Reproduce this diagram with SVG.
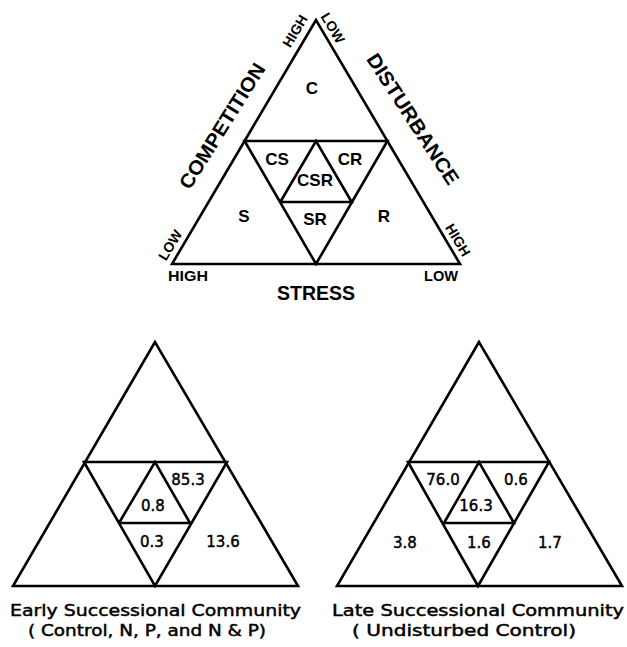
<svg xmlns="http://www.w3.org/2000/svg" width="627" height="647" viewBox="0 0 627 647">
<style>
.ln{fill:none;stroke:#000;stroke-width:2.6;stroke-linejoin:miter}
.lb{font-family:"Liberation Sans",Arial,sans-serif;font-weight:bold;font-size:17px;text-anchor:middle;fill:#000}
.ax{font-family:"Liberation Sans",Arial,sans-serif;font-weight:bold;font-size:20px;text-anchor:middle;fill:#000}
.sm{font-family:"Liberation Sans",Arial,sans-serif;font-weight:bold;font-size:14px;text-anchor:middle;fill:#000}
.nm{font-family:"DejaVu Sans",sans-serif;font-size:15px;text-anchor:middle;fill:#000;stroke:#000;stroke-width:0.45}
.cp{font-family:"DejaVu Sans",sans-serif;font-size:15px;text-anchor:middle;fill:#000;stroke:#000;stroke-width:0.45}
</style>
<rect width="627" height="647" fill="#fff"/>
<g id="top-triangle">
<polygon class="ln" points="316,20 172,264 460,264"/>
<polygon class="ln" points="244.6,141 387.4,141 316,264"/>
<polyline class="ln" points="280.3,202 316,141 351.7,202 280.3,202"/>
<text class="lb" x="312" y="94">C</text>
<text class="lb" x="277" y="165">CS</text>
<text class="lb" x="350" y="165">CR</text>
<text class="lb" x="315" y="186">CSR</text>
<text class="lb" x="244" y="222">S</text>
<text class="lb" x="315" y="225">SR</text>
<text class="lb" x="384" y="222">R</text>
<text class="sm" transform="translate(295,31) rotate(-59)" y="5">HIGH</text>
<text class="sm" transform="translate(333,28) rotate(59)" y="5">LOW</text>
<text class="sm" transform="translate(170,245) rotate(-59)" y="5">LOW</text>
<text class="sm" transform="translate(458,240) rotate(59)" y="5">HIGH</text>
<text class="sm" x="188" y="281" textLength="40" lengthAdjust="spacingAndGlyphs">HIGH</text>
<text class="sm" x="441" y="281" textLength="34" lengthAdjust="spacingAndGlyphs">LOW</text>
<text class="ax" transform="translate(222,126) rotate(-58)" y="7" textLength="144" lengthAdjust="spacingAndGlyphs">COMPETITION</text>
<text class="ax" transform="translate(413,119) rotate(57)" y="7" textLength="152" lengthAdjust="spacingAndGlyphs">DISTURBANCE</text>
<text class="ax" x="316" y="300" font-size="19" textLength="78" lengthAdjust="spacingAndGlyphs">STRESS</text>
</g>
<g id="early-triangle">
<polygon class="ln" points="155,342 13,586 298,586"/>
<polygon class="ln" points="84,462 227,462 155,586"/>
<polyline class="ln" points="119,523 155,462 190,523 119,523"/>
<text class="nm" x="188" y="485">85.3</text>
<text class="nm" x="153" y="511">0.8</text>
<text class="nm" x="152" y="547">0.3</text>
<text class="nm" x="223" y="547">13.6</text>
</g>
<g id="late-triangle">
<polygon class="ln" points="479,342 337,586 622,586"/>
<polygon class="ln" points="408,462 549,462 478,586"/>
<polyline class="ln" points="444,523 479,462 514,523 444,523"/>
<text class="nm" x="443" y="485">76.0</text>
<text class="nm" x="516" y="485">0.6</text>
<text class="nm" x="476" y="511">16.3</text>
<text class="nm" x="405" y="548">3.8</text>
<text class="nm" x="479" y="548">1.6</text>
<text class="nm" x="550" y="548">1.7</text>
</g>
<g id="captions">
<text class="cp" x="155.5" y="616" textLength="291" lengthAdjust="spacingAndGlyphs">Early Successional Community</text>
<text class="cp" x="147" y="636" textLength="238" lengthAdjust="spacingAndGlyphs">( Control, N, P, and N &amp; P)</text>
<text class="cp" x="478" y="616" textLength="292" lengthAdjust="spacingAndGlyphs">Late Successional Community</text>
<text class="cp" x="464" y="636" textLength="224" lengthAdjust="spacingAndGlyphs">( Undisturbed Control)</text>
</g>
<g id="connectors"></g>
</svg>
